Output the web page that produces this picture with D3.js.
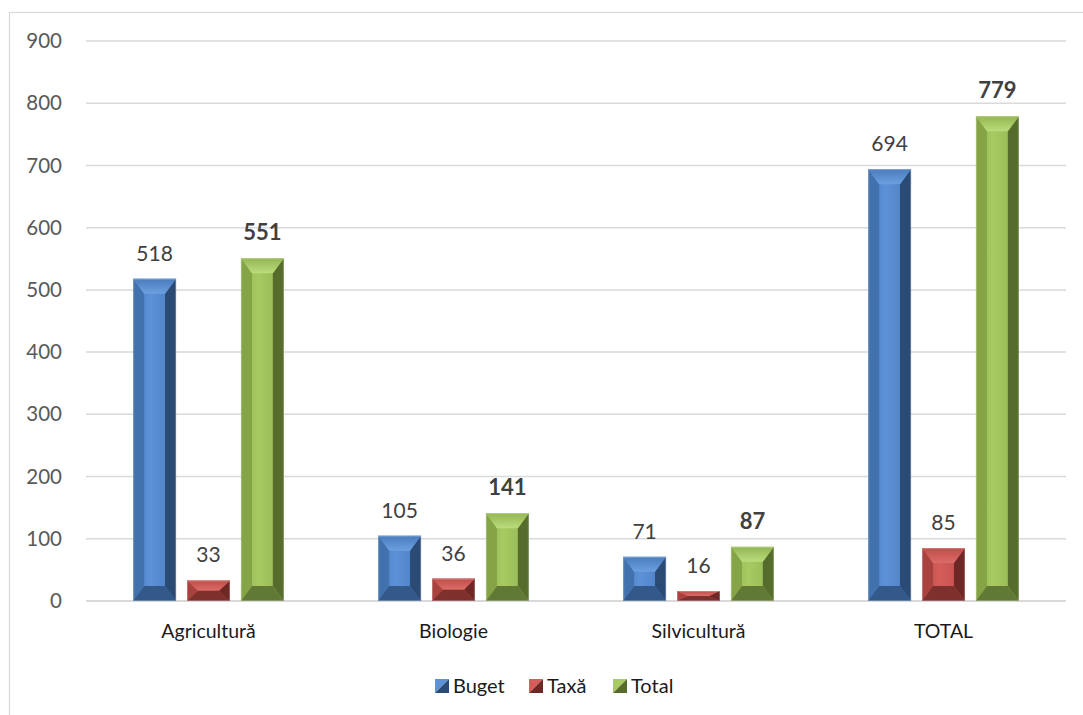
<!DOCTYPE html>
<html>
<head>
<meta charset="utf-8">
<script src="https://cdn.jsdelivr.net/npm/d3@7"></script>
<style>
  body { margin: 0; background: #fff; }
  svg { display: block; font-family: Lato, "Open Sans", sans-serif; }
</style>
</head>
<body>
<div id="chart"></div>
<script>
var categories = ['Agricultură', 'Biologie', 'Silvicultură', 'TOTAL'];
var seriesNames = ['Buget', 'Taxă', 'Total'];
var buget = [518, 105, 71, 694];
var taxa = [33, 36, 16, 85];
var total = [551, 141, 87, 779];
var yTicks = [0, 100, 200, 300, 400, 500, 600, 700, 800, 900];

var series = [buget, taxa, total];

// bevel palette per series: face, highlight, top, left, right, bottom
var palette = [
    { face: '#4b7cbd', hi: '#5d92d8', top: '#6a9fe0', left: '#4272ad', right: '#2b4a74', bottom: '#33588a' },
    { face: '#bf4d4a', hi: '#d45d59', top: '#dc6c68', left: '#a8423f', right: '#6d2826', bottom: '#7e302d' },
    { face: '#93b552', hi: '#a8ca62', top: '#bcdc7b', left: '#84a446', right: '#556c2c', bottom: '#607a35' }
];

var width = 1083;
var height = 715;
var plotLeft = 86, plotRight = 1066, plotTop = 41, plotBottom = 601;

var svg = d3.select('#chart').append('svg')
    .attr('width', width)
    .attr('height', height);

// chart frame
svg.append('rect')
    .attr('x', 9.5).attr('y', 12.5)
    .attr('width', 1100).attr('height', 800)
    .attr('fill', '#fff')
    .attr('stroke', '#d9d9d9')
    .attr('stroke-width', 1.2);

var y = d3.scaleLinear().domain([0, 900]).range([plotBottom, plotTop]);
var x0 = d3.scaleBand().domain(categories).range([plotLeft, plotRight]).padding(0);
var bw = x0.bandwidth();
var barW = bw * 0.175;
var gap = bw * 0.045;
var groupW = barW * 3 + gap * 2;
var x1 = d3.scaleBand().domain(seriesNames)
    .range([(bw - groupW) / 2, (bw + groupW) / 2])
    .paddingInner(gap / (barW + gap));

// gradients for the bar faces
var defs = svg.append('defs');
palette.forEach(function (p, i) {
    var g = defs.append('linearGradient').attr('id', 'face' + i)
        .attr('x1', '0').attr('x2', '1').attr('y1', '0').attr('y2', '0');
    g.append('stop').attr('offset', '0%').attr('stop-color', p.face);
    g.append('stop').attr('offset', '40%').attr('stop-color', p.hi);
    g.append('stop').attr('offset', '100%').attr('stop-color', p.face);
    var t = defs.append('linearGradient').attr('id', 'top' + i)
        .attr('x1', '0').attr('x2', '0').attr('y1', '0').attr('y2', '1');
    t.append('stop').attr('offset', '0%').attr('stop-color', p.face);
    t.append('stop').attr('offset', '100%').attr('stop-color', p.top);
});

// gridlines
svg.append('g')
    .selectAll('line')
    .data(yTicks)
    .enter().append('line')
    .attr('x1', plotLeft).attr('x2', plotRight)
    .attr('y1', function (d) { return y(d); })
    .attr('y2', function (d) { return y(d); })
    .attr('stroke', '#d9d9d9')
    .attr('stroke-width', function (d) { return d === 0 ? 2 : 1.5; });

// y axis labels
var yAxis = d3.axisLeft(y).tickValues(yTicks).tickSize(0).tickPadding(0);
var yg = svg.append('g').attr('transform', 'translate(62,0)').call(yAxis);
yg.select('.domain').remove();
yg.selectAll('text')
    .attr('font-size', '20.5px')
    .attr('fill', '#595959')
    .attr('font-family', 'Lato, sans-serif');

// x axis labels
var xAxis = d3.axisBottom(x0).tickSize(0).tickPadding(0);
var xg = svg.append('g').attr('transform', 'translate(0,' + (plotBottom + 23) + ')').call(xAxis);
xg.select('.domain').remove();
xg.selectAll('text')
    .attr('font-size', '19.5px')
    .attr('fill', '#1a1a1a')
    .attr('font-family', 'Lato, sans-serif');

function bevelBar(g, x, yTop, w, h, p, idx) {
    var ix = Math.min(11, w / 2);
    var iy = Math.min(15, h / 2);
    var x2 = x + w, y2 = yTop + h;
    function poly(pts, fill) {
        g.append('polygon')
            .attr('points', pts.map(function (q) { return q.join(','); }).join(' '))
            .attr('fill', fill);
    }
    g.append('rect').attr('x', x).attr('y', yTop).attr('width', w).attr('height', h)
        .attr('fill', 'url(#face' + idx + ')');
    poly([[x, yTop], [x + ix, yTop + iy], [x + ix, y2 - iy], [x, y2]], p.left);
    poly([[x2, yTop], [x2 - ix, yTop + iy], [x2 - ix, y2 - iy], [x2, y2]], p.right);
    poly([[x, yTop], [x2, yTop], [x2 - ix, yTop + iy], [x + ix, yTop + iy]], 'url(#top' + idx + ')');
    poly([[x, y2], [x2, y2], [x2 - ix, y2 - iy], [x + ix, y2 - iy]], p.bottom);
    g.append('rect').attr('x', x + 0.5).attr('y', yTop + 0.5).attr('width', w - 1).attr('height', h - 1)
        .attr('fill', 'none').attr('stroke', 'rgba(255,255,255,0.25)').attr('stroke-width', 1);
}

// bars
categories.forEach(function (cat, ci) {
    var g = svg.append('g').attr('transform', 'translate(' + x0(cat) + ',0)');
    seriesNames.forEach(function (s, si) {
        var v = series[si][ci];
        var bx = x1(s);
        var top = y(v);
        bevelBar(g, bx, top, x1.bandwidth(), y(0) - top, palette[si], si);
        g.append('text')
            .attr('x', bx + x1.bandwidth() / 2)
            .attr('y', top - 18)
            .attr('text-anchor', 'middle')
            .attr('font-size', si === 2 ? '22px' : '21px')
            .attr('font-weight', si === 2 ? 'bold' : 'normal')
            .attr('fill', '#404040')
            .text(v);
    });
});

// legend
var legendItems = [
    { name: 'Buget', x: 435 },
    { name: 'Taxă', x: 529 },
    { name: 'Total', x: 613 }
];
var legend = svg.append('g').attr('transform', 'translate(0,686)');
legendItems.forEach(function (item, i) {
    var p = palette[i];
    var gi = legend.append('g').attr('transform', 'translate(' + item.x + ',0)');
    var s = 14;
    gi.append('polygon').attr('points', '0,-7 ' + s + ',-7 0,' + (s - 7)).attr('fill', p.hi);
    gi.append('polygon').attr('points', s + ',-7 ' + s + ',' + (s - 7) + ' 0,' + (s - 7)).attr('fill', p.right);
    gi.append('text')
        .attr('x', s + 4)
        .attr('y', 0)
        .attr('dy', '0.35em')
        .attr('font-size', '20px')
        .attr('fill', '#1a1a1a')
        .text(item.name);
});
</script>
</body>
</html>
